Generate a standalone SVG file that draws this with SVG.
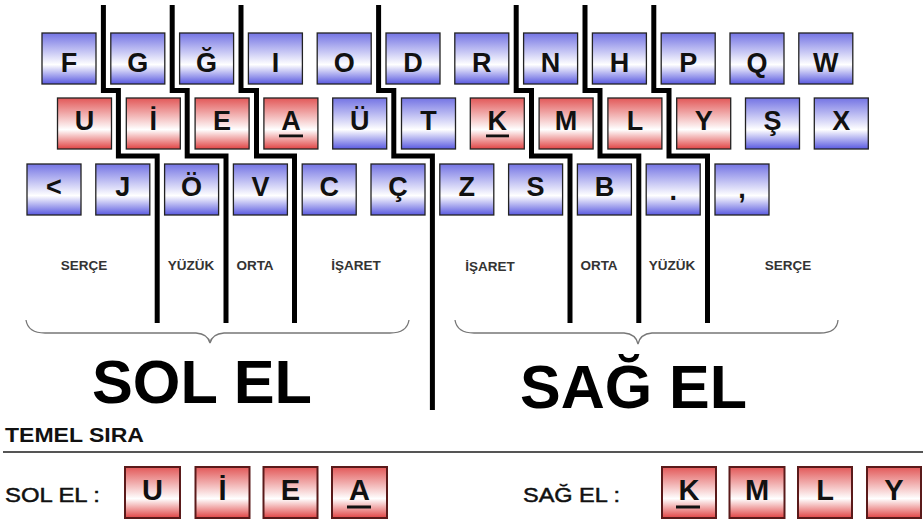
<svg xmlns="http://www.w3.org/2000/svg" width="923" height="521" viewBox="0 0 923 521">
<defs>
<linearGradient id="gb" x1="0" y1="0" x2="0" y2="1">
<stop offset="0" stop-color="#7474e4"/>
<stop offset="0.62" stop-color="#ffffff"/>
<stop offset="1" stop-color="#5a5ae0"/>
</linearGradient>
<linearGradient id="gr" x1="0" y1="0" x2="0" y2="1">
<stop offset="0" stop-color="#e25858"/>
<stop offset="0.62" stop-color="#ffffff"/>
<stop offset="1" stop-color="#e04444"/>
</linearGradient>
<style>
.kb{fill:url(#gb);stroke:#222;stroke-width:1.3}
.kr{fill:url(#gr);stroke:#222;stroke-width:1.3}
.kh{fill:url(#gr);stroke:#5a1a1a;stroke-width:2}
.t{font-family:"Liberation Sans",Arial,sans-serif;font-weight:bold;font-size:27px;fill:#111;text-anchor:middle}
.th{font-family:"Liberation Sans",Arial,sans-serif;font-weight:bold;font-size:29px;fill:#111;text-anchor:middle}
.ul{fill:#111}
.fl{font-family:"Liberation Sans",Arial,sans-serif;font-weight:bold;font-size:13.5px;fill:#333;text-anchor:middle}
.big{font-family:"Liberation Sans",Arial,sans-serif;font-weight:bold;font-size:62px;fill:#000}
.sep{fill:none;stroke:#000;stroke-width:5;stroke-linejoin:miter}
.brace{fill:none;stroke:#777;stroke-width:1.3}
.lbl{font-family:"Liberation Sans",Arial,sans-serif;font-size:21px;fill:#111;stroke:#111;stroke-width:0.5}
</style>
</defs>
<rect width="923" height="521" fill="#ffffff"/>

<!-- Row 1 -->
<g id="key-F"><rect class="kb" x="42" y="33" width="54" height="51"/><text class="t" x="69" y="72">F</text></g>
<g id="key-G"><rect class="kb" x="110.8" y="33" width="54" height="51"/><text class="t" x="137.8" y="72">G</text></g>
<g id="key-Gb"><rect class="kb" x="179.6" y="33" width="54" height="51"/><text class="t" x="206.6" y="72">Ğ</text></g>
<g id="key-I"><rect class="kb" x="248.4" y="33" width="54" height="51"/><text class="t" x="275.4" y="72">I</text></g>
<g id="key-O"><rect class="kb" x="317.2" y="33" width="54" height="51"/><text class="t" x="344.2" y="72">O</text></g>
<g id="key-D"><rect class="kb" x="386" y="33" width="54" height="51"/><text class="t" x="413" y="72">D</text></g>
<g id="key-R"><rect class="kb" x="454.8" y="33" width="54" height="51"/><text class="t" x="481.8" y="72">R</text></g>
<g id="key-N"><rect class="kb" x="523.6" y="33" width="54" height="51"/><text class="t" x="550.6" y="72">N</text></g>
<g id="key-H"><rect class="kb" x="592.4" y="33" width="54" height="51"/><text class="t" x="619.4" y="72">H</text></g>
<g id="key-P"><rect class="kb" x="661.2" y="33" width="54" height="51"/><text class="t" x="688.2" y="72">P</text></g>
<g id="key-Q"><rect class="kb" x="730" y="33" width="54" height="51"/><text class="t" x="757" y="72">Q</text></g>
<g id="key-W"><rect class="kb" x="798.8" y="33" width="54" height="51"/><text class="t" x="825.8" y="72">W</text></g>

<!-- Row 2 -->
<g id="key-U"><rect class="kr" x="57.5" y="98" width="54" height="51"/><text class="t" x="84.5" y="130">U</text></g>
<g id="key-Idot"><rect class="kr" x="126.3" y="98" width="54" height="51"/><text class="t" x="153.3" y="130">İ</text></g>
<g id="key-E"><rect class="kr" x="195.1" y="98" width="54" height="51"/><text class="t" x="222.1" y="130">E</text></g>
<g id="key-A"><rect class="kr" x="263.9" y="98" width="54" height="51"/><text class="t" x="290.9" y="130">A</text><rect class="ul" x="279" y="134.5" width="24" height="2.8"/></g>
<g id="key-Uu"><rect class="kb" x="332.7" y="98" width="54" height="51"/><text class="t" x="359.7" y="130">Ü</text></g>
<g id="key-T"><rect class="kb" x="401.5" y="98" width="54" height="51"/><text class="t" x="428.5" y="130">T</text></g>
<g id="key-K"><rect class="kr" x="470.3" y="98" width="54" height="51"/><text class="t" x="497.3" y="130">K</text><rect class="ul" x="486" y="134.5" width="23" height="2.8"/></g>
<g id="key-M"><rect class="kr" x="539.1" y="98" width="54" height="51"/><text class="t" x="566.1" y="130">M</text></g>
<g id="key-L"><rect class="kr" x="607.9" y="98" width="54" height="51"/><text class="t" x="634.9" y="130">L</text></g>
<g id="key-Y"><rect class="kr" x="676.7" y="98" width="54" height="51"/><text class="t" x="703.7" y="130">Y</text></g>
<g id="key-Sc"><rect class="kb" x="745.5" y="98" width="54" height="51"/><text class="t" x="772.5" y="130">Ş</text></g>
<g id="key-X"><rect class="kb" x="814.3" y="98" width="54" height="51"/><text class="t" x="841.3" y="130">X</text></g>

<!-- Row 3 -->
<g id="key-lt"><rect class="kb" x="27" y="164" width="54" height="51"/><text class="t" x="54" y="196">&lt;</text></g>
<g id="key-J"><rect class="kb" x="95.8" y="164" width="54" height="51"/><text class="t" x="122.8" y="196">J</text></g>
<g id="key-Oo"><rect class="kb" x="164.6" y="164" width="54" height="51"/><text class="t" x="191.6" y="196">Ö</text></g>
<g id="key-V"><rect class="kb" x="233.4" y="164" width="54" height="51"/><text class="t" x="260.4" y="196">V</text></g>
<g id="key-C"><rect class="kb" x="302.2" y="164" width="54" height="51"/><text class="t" x="329.2" y="196">C</text></g>
<g id="key-Cc"><rect class="kb" x="371" y="164" width="54" height="51"/><text class="t" x="398" y="196">Ç</text></g>
<g id="key-Z"><rect class="kb" x="439.8" y="164" width="54" height="51"/><text class="t" x="466.8" y="196">Z</text></g>
<g id="key-S"><rect class="kb" x="508.6" y="164" width="54" height="51"/><text class="t" x="535.6" y="196">S</text></g>
<g id="key-B"><rect class="kb" x="577.4" y="164" width="54" height="51"/><text class="t" x="604.4" y="196">B</text></g>
<g id="key-dot"><rect class="kb" x="646.2" y="164" width="54" height="51"/><text class="t" x="673.2" y="200">.</text></g>
<g id="key-comma"><rect class="kb" x="715" y="164" width="54" height="51"/><text class="t" x="742" y="198">,</text></g>

<!-- Separators -->
<g id="connectors">
<polyline class="sep" points="103.4,5 103.4,90.5 118.4,90.5 118.4,156 157.2,156 157.2,323"/>
<polyline class="sep" points="172.2,5 172.2,90.5 187.2,90.5 187.2,156 226,156 226,323"/>
<polyline class="sep" points="241,5 241,90.5 256.5,90.5 256.5,156 294.5,156 294.5,323"/>
<polyline class="sep" points="378.6,5 378.6,90.5 393.8,90.5 393.8,156 432.4,156 432.4,410"/>
<polyline class="sep" points="516.2,5 516.2,90.5 531.5,90.5 531.5,156 570,156 570,323"/>
<polyline class="sep" points="585,5 585,90.5 600,90.5 600,156 638.8,156 638.8,323"/>
<polyline class="sep" points="653.8,5 653.8,90.5 669,90.5 669,156 707.5,156 707.5,323"/>
<path class="brace" d="M26,320 Q28,333 45,333 L196,333 Q208,334 210,343 Q212,334 224,333 L390,333 Q407,333 409,320"/>
<path class="brace" d="M455,320 Q457,333 474,333 L624,333 Q636,334 638,344 Q640,334 652,333 L820,333 Q837,333 838,320"/>
</g>

<!-- Finger labels -->
<g id="labels-left">
<text class="fl" x="84" y="270">SERÇE</text>
<text class="fl" x="191" y="270">YÜZÜK</text>
<text class="fl" x="255" y="270">ORTA</text>
<text class="fl" x="356" y="270">İŞARET</text>
</g>
<g id="labels-right">
<text class="fl" x="490" y="271">İŞARET</text>
<text class="fl" x="599" y="270">ORTA</text>
<text class="fl" x="672" y="270">YÜZÜK</text>
<text class="fl" x="788" y="270">SERÇE</text>
</g>

<g id="title-left"><text class="big" x="92" y="403" textLength="220" lengthAdjust="spacingAndGlyphs">SOL EL</text></g>
<g id="title-right"><text class="big" x="520" y="408" textLength="227" lengthAdjust="spacingAndGlyphs">SAĞ EL</text></g>

<!-- Temel sıra -->
<g id="temel">
<text x="5" y="442" font-family="Liberation Sans, Arial, sans-serif" font-weight="bold" font-size="20" fill="#111" textLength="139" lengthAdjust="spacingAndGlyphs">TEMEL SIRA</text>
<line x1="3" y1="452" x2="923" y2="452" stroke="#555" stroke-width="2"/>
</g>
<g id="sol-el-row">
<text class="lbl" x="5" y="502" textLength="95" lengthAdjust="spacingAndGlyphs">SOL EL :</text>
<g id="h-U"><rect class="kh" x="125" y="467" width="55" height="51"/><text class="th" x="152.5" y="500">U</text></g>
<g id="h-Idot"><rect class="kh" x="195.5" y="467" width="54" height="51"/><text class="th" x="222.5" y="500">İ</text></g>
<g id="h-E"><rect class="kh" x="263.5" y="467" width="54" height="51"/><text class="th" x="290.5" y="500">E</text></g>
<g id="h-A"><rect class="kh" x="332" y="467" width="55" height="51"/><text class="th" x="359.5" y="500">A</text><rect class="ul" x="347" y="505.5" width="24" height="3"/></g>
</g>
<g id="sag-el-row">
<text class="lbl" x="523" y="502" textLength="97" lengthAdjust="spacingAndGlyphs">SAĞ EL :</text>
<g id="h-K"><rect class="kh" x="662" y="467" width="54" height="51"/><text class="th" x="689" y="500">K</text><rect class="ul" x="676" y="505.5" width="24" height="3"/></g>
<g id="h-M"><rect class="kh" x="729.5" y="467" width="55" height="51"/><text class="th" x="757" y="500">M</text></g>
<g id="h-L"><rect class="kh" x="798" y="467" width="54" height="51"/><text class="th" x="825" y="500">L</text></g>
<g id="h-Y"><rect class="kh" x="867" y="467" width="54" height="51"/><text class="th" x="894" y="500">Y</text></g>
</g>
</svg>
